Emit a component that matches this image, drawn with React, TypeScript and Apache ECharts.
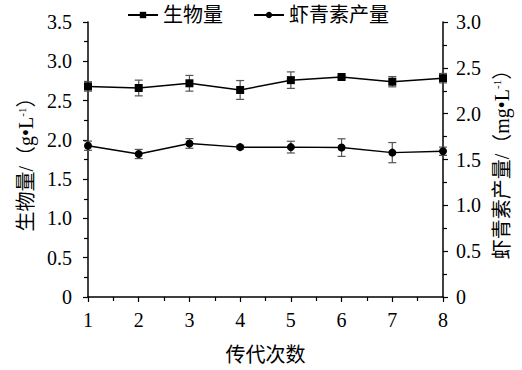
import React, { useEffect, useRef } from "react";
import * as echarts from "echarts";

const generations = [1, 2, 3, 4, 5, 6, 7, 8];
const biomass = [2.68, 2.66, 2.72, 2.635, 2.76, 2.8, 2.74, 2.785];
const biomassErr = [0.06, 0.1, 0.1, 0.12, 0.105, 0.02, 0.065, 0.06];
const astaxanthin = [1.65, 1.56, 1.675, 1.635, 1.635, 1.63, 1.575, 1.59];
const astaxanthinErr = [0.05, 0.05, 0.053, 0.02, 0.064, 0.096, 0.11, 0.045];
const leftTicks = { min: 0, max: 3.5, interval: 0.5 };
const rightTicks = { min: 0, max: 3.0, interval: 0.5 };

const FONT = "'Liberation Serif', 'Noto Sans CJK SC', serif";

function errRender(params: any, api: any) {
  const x = api.value(0);
  const y = api.value(1);
  const e = api.value(2);
  const top = api.coord([x, y + e]);
  const bot = api.coord([x, y - e]);
  const h = 4;
  const style = { stroke: "#555", lineWidth: 1.2 };
  return {
    type: "group",
    children: [
      { type: "line", shape: { x1: top[0], y1: top[1], x2: bot[0], y2: bot[1] }, style },
      { type: "line", shape: { x1: top[0] - h, y1: top[1], x2: top[0] + h, y2: top[1] }, style },
      { type: "line", shape: { x1: bot[0] - h, y1: bot[1], x2: bot[0] + h, y2: bot[1] }, style },
    ],
  };
}

export default function App() {
  const ref = useRef<HTMLDivElement>(null);
  useEffect(() => {
    if (!ref.current) return;
    const chart = echarts.init(ref.current, null, { renderer: "svg" });
    const axisCommon = {
      axisLine: { show: true, lineStyle: { color: "#000", width: 1.5 } },
      axisTick: { show: true, inside: false, length: 5, lineStyle: { color: "#000", width: 1.2 } },
      minorTick: { show: true, splitNumber: 2, length: 4, lineStyle: { color: "#000", width: 1.2 } },
      splitLine: { show: false },
      minorSplitLine: { show: false },
      axisLabel: { color: "#000", fontFamily: FONT, fontSize: 20 },
    };
    const fmt = (v: number) => (v === 0 ? "0" : v.toFixed(1));
    const nameRich = {
      n: { fontFamily: FONT, fontSize: 20, color: "#000" },
      s: { fontFamily: FONT, fontSize: 11, color: "#000", verticalAlign: "top", padding: [0, 0, 8, 0] },
    };
    chart.setOption({
      animation: false,
      grid: { left: 88, right: 79, top: 22, bottom: 73 },
      legend: {
        top: 0,
        left: 122,
        itemGap: 30,
        itemWidth: 30,
        itemHeight: 8,
        textStyle: { fontFamily: FONT, fontSize: 20, color: "#000" },
        data: ["生物量", "虾青素产量"],
      },
      xAxis: {
        type: "value",
        min: 1,
        max: 8,
        interval: 1,
        ...axisCommon,
        axisLabel: { ...axisCommon.axisLabel, margin: 13 },
        name: "传代次数",
        nameLocation: "middle",
        nameGap: 48,
        nameTextStyle: { fontFamily: FONT, fontSize: 20, color: "#000" },
      },
      yAxis: [
        {
          type: "value",
          ...leftTicks,
          ...axisCommon,
          axisLabel: { ...axisCommon.axisLabel, margin: 16, formatter: fmt },
          name: "{n|生物量/（g•L}{s|-1}{n|）}",
          nameLocation: "middle",
          nameGap: 48,
          nameTextStyle: { rich: nameRich },
        },
        {
          type: "value",
          ...rightTicks,
          ...axisCommon,
          axisLabel: { ...axisCommon.axisLabel, margin: 13, formatter: fmt },
          name: "{n|虾青素产量/（mg•L}{s|-1}{n|）}",
          nameLocation: "middle",
          nameGap: 41,
          nameRotate: 90,
          nameTextStyle: { rich: nameRich },
        },
      ],
      series: [
        {
          name: "生物量",
          type: "line",
          yAxisIndex: 0,
          data: generations.map((g, i) => [g, biomass[i]]),
          symbol: "rect",
          symbolSize: 8,
          itemStyle: { color: "#000" },
          lineStyle: { color: "#000", width: 1.5 },
          z: 3,
        },
        {
          name: "虾青素产量",
          type: "line",
          yAxisIndex: 1,
          data: generations.map((g, i) => [g, astaxanthin[i]]),
          symbol: "circle",
          symbolSize: 8,
          itemStyle: { color: "#000" },
          lineStyle: { color: "#000", width: 1.5 },
          z: 3,
        },
        {
          type: "custom",
          yAxisIndex: 0,
          renderItem: errRender,
          data: generations.map((g, i) => [g, biomass[i], biomassErr[i]]),
          encode: { x: 0, y: 1 },
          z: 2,
          silent: true,
        },
        {
          type: "custom",
          yAxisIndex: 1,
          renderItem: errRender,
          data: generations.map((g, i) => [g, astaxanthin[i], astaxanthinErr[i]]),
          encode: { x: 0, y: 1 },
          z: 2,
          silent: true,
        },
      ],
    });
    return () => chart.dispose();
  }, []);
  return (
    <div
      ref={ref}
      style={{ position: "fixed", left: 0, top: 0, width: 522, height: 370, background: "#fff" }}
    />
  );
}
